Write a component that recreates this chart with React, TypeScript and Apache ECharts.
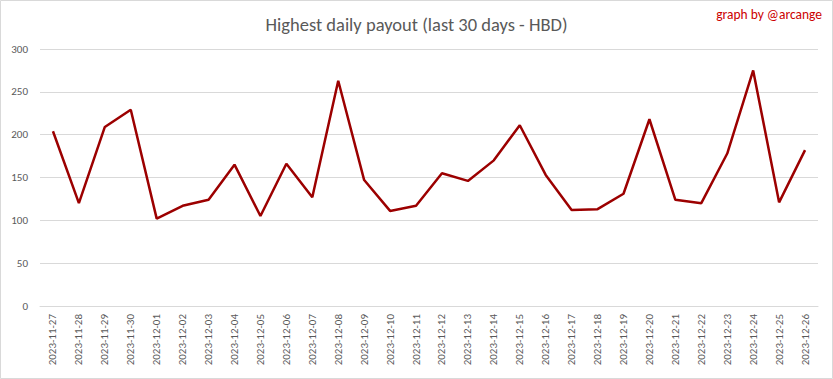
import React, { useEffect, useRef } from "react";
import * as echarts from "echarts";

const dates = [
  "2023-11-27", "2023-11-28", "2023-11-29", "2023-11-30", "2023-12-01", "2023-12-02",
  "2023-12-03", "2023-12-04", "2023-12-05", "2023-12-06", "2023-12-07", "2023-12-08",
  "2023-12-09", "2023-12-10", "2023-12-11", "2023-12-12", "2023-12-13", "2023-12-14",
  "2023-12-15", "2023-12-16", "2023-12-17", "2023-12-18", "2023-12-19", "2023-12-20",
  "2023-12-21", "2023-12-22", "2023-12-23", "2023-12-24", "2023-12-25", "2023-12-26",
];
const payouts = [
  204, 120, 209, 229, 102, 117, 124, 165, 105, 166, 127, 263, 147, 111, 117,
  155, 146, 170, 211, 153, 112, 113, 131, 218, 124, 120, 178, 275, 121, 182,
];
const titleText = "Highest daily payout (last 30 days - HBD)";
const creditText = "graph by @arcange";

export default function App() {
  const ref = useRef<HTMLDivElement>(null);
  useEffect(() => {
    if (!ref.current) return;
    const chart = echarts.init(ref.current, undefined, { renderer: "svg" });
    const font = "Calibri, Carlito, 'Open Sans', sans-serif";
    chart.setOption({
      animation: false,
      backgroundColor: "#ffffff",
      textStyle: { fontFamily: font },
      title: {
        text: titleText,
        left: "center",
        top: 10,
        textStyle: { fontSize: 18.5, fontWeight: "normal", color: "#595959", fontFamily: font },
      },
      graphic: [
        {
          type: "rect",
          shape: { x: 0.5, y: 0.5, width: 832, height: 378 },
          style: { fill: "none", stroke: "#d9d9d9", lineWidth: 1 },
          silent: true,
        },
        {
          type: "text",
          right: 11,
          top: 7,
          style: { text: creditText, fill: "#cc0000", fontSize: 13.5, fontFamily: font },
        },
      ],
      grid: { left: 40, right: 15, top: 49, bottom: 73, containLabel: false },
      xAxis: {
        type: "category",
        data: dates,
        boundaryGap: true,
        axisLine: { show: true, lineStyle: { color: "#d9d9d9" } },
        axisTick: { show: false },
        axisLabel: { rotate: 90, interval: 0, fontSize: 11, color: "#595959", margin: 8, fontFamily: font },
      },
      yAxis: {
        type: "value",
        min: 0,
        max: 300,
        interval: 50,
        axisLine: { show: false },
        axisTick: { show: false },
        axisLabel: { fontSize: 11, color: "#595959", margin: 12, fontFamily: font },
        splitLine: { lineStyle: { color: "#d9d9d9", width: 1 } },
      },
      series: [
        {
          type: "line",
          data: payouts,
          symbol: "none",
          lineStyle: { color: "#9c0000", width: 2.5 },
          itemStyle: { color: "#9c0000" },
        },
      ],
    });
    return () => chart.dispose();
  }, []);
  return (
    <div
      ref={ref}
      style={{ position: "fixed", left: 0, top: 0, width: 833, height: 379 }}
    />
  );
}
